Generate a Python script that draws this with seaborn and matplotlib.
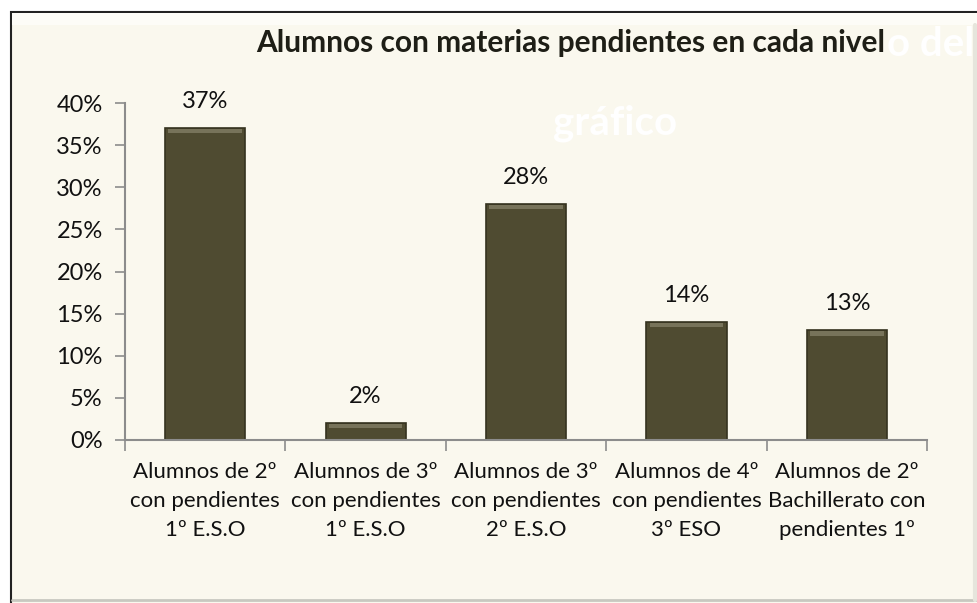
import matplotlib
matplotlib.use('Agg')
import matplotlib.pyplot as plt
import seaborn as sns
import pandas as pd
from matplotlib.patches import Rectangle
from matplotlib.ticker import FuncFormatter, FixedLocator

categories = [
    "Alumnos de 2º\ncon pendientes\n1º E.S.O",
    "Alumnos de 3º\ncon pendientes\n1º E.S.O",
    "Alumnos de 3º\ncon pendientes\n2º E.S.O",
    "Alumnos de 4º\ncon pendientes\n3º ESO",
    "Alumnos de 2º\nBachillerato con\npendientes 1º",
]
values = [0.37, 0.02, 0.28, 0.14, 0.13]
title = "Alumnos con materias pendientes en cada nivel"

bg = "#FAF8EE"
bar_color = "#4F4B31"
axis_grey = "#8C8C8C"

sns.set_theme(style="white")
plt.rcParams['font.family'] = ['Lato', 'DejaVu Sans']

fig = plt.figure(figsize=(9.78, 6.03), dpi=100)
fig.patch.set_facecolor("white")

# background axes holding the chart frame and title
bg_ax = fig.add_axes([0, 0, 1, 1], zorder=0)
bg_ax.set_xlim(0, 978)
bg_ax.set_ylim(603, 0)
bg_ax.axis("off")
bg_ax.add_patch(Rectangle((11, 12), 980, 600, facecolor=bg, edgecolor="#222222", linewidth=1.5))
bg_ax.add_patch(Rectangle((12, 13), 980, 12, facecolor="#FDFCF7", linewidth=0))
bg_ax.plot([12, 978], [600, 600], color="#C8C8C0", linewidth=2)
bg_ax.plot([975, 975], [25, 600], color="#E6E5DC", linewidth=3)
# ghost placeholder text behind the title
bg_ax.text(887, 44, "o del", ha="left", va="center", fontsize=29,
           fontweight="bold", color="white")
bg_ax.text(615, 123, "gráfico", ha="center", va="center", fontsize=29,
           fontweight="bold", color="white")
bg_ax.text(571, 43, title, ha="center", va="center", fontsize=21.5,
           fontweight="bold", color="#1E1E16")

ax = fig.add_axes([125 / 978, 1 - 440 / 603, (927 - 125) / 978, (440 - 103) / 603], zorder=2)
ax.set_facecolor("none")

df = pd.DataFrame({"cat": categories, "val": values})
sns.barplot(data=df, x="cat", y="val", color=bar_color, saturation=1, width=0.5,
            edgecolor="#35321F", linewidth=1.2, ax=ax)

# bevel highlight on bar tops
ax.bar(range(len(values)), [0.005] * len(values), bottom=[v - 0.006 for v in values],
       width=0.46, color="#77735A", linewidth=0, zorder=3)

for i, v in enumerate(values):
    ax.text(i, v + 0.032, f"{v:.0%}", ha="center", va="center", fontsize=17, color="#111111")

ax.set_ylim(0, 0.40)
ax.set_xlim(-0.5, len(values) - 0.5)
ax.yaxis.set_major_locator(FixedLocator([i * 0.05 for i in range(9)]))
ax.yaxis.set_major_formatter(FuncFormatter(lambda y, _: f"{y:.0%}"))
ax.set_xlabel("")
ax.set_ylabel("")

for s in ["top", "right"]:
    ax.spines[s].set_visible(False)
for s in ["left", "bottom"]:
    ax.spines[s].set_color(axis_grey)
    ax.spines[s].set_linewidth(1.5)

ax.tick_params(axis="y", left=True, length=7, width=1.2, color=axis_grey,
               labelsize=17, labelcolor="#111111", pad=9)
ax.tick_params(axis="x", which="major", bottom=False, length=0, labelsize=16,
               labelcolor="#111111", pad=16)
ax.xaxis.set_minor_locator(FixedLocator([i - 0.5 for i in range(len(values) + 1)]))
ax.tick_params(axis="x", which="minor", bottom=True, length=8, width=1.2, color=axis_grey)
for lbl in ax.get_xticklabels():
    lbl.set_linespacing(1.55)

fig.savefig("out.png", dpi=100)
